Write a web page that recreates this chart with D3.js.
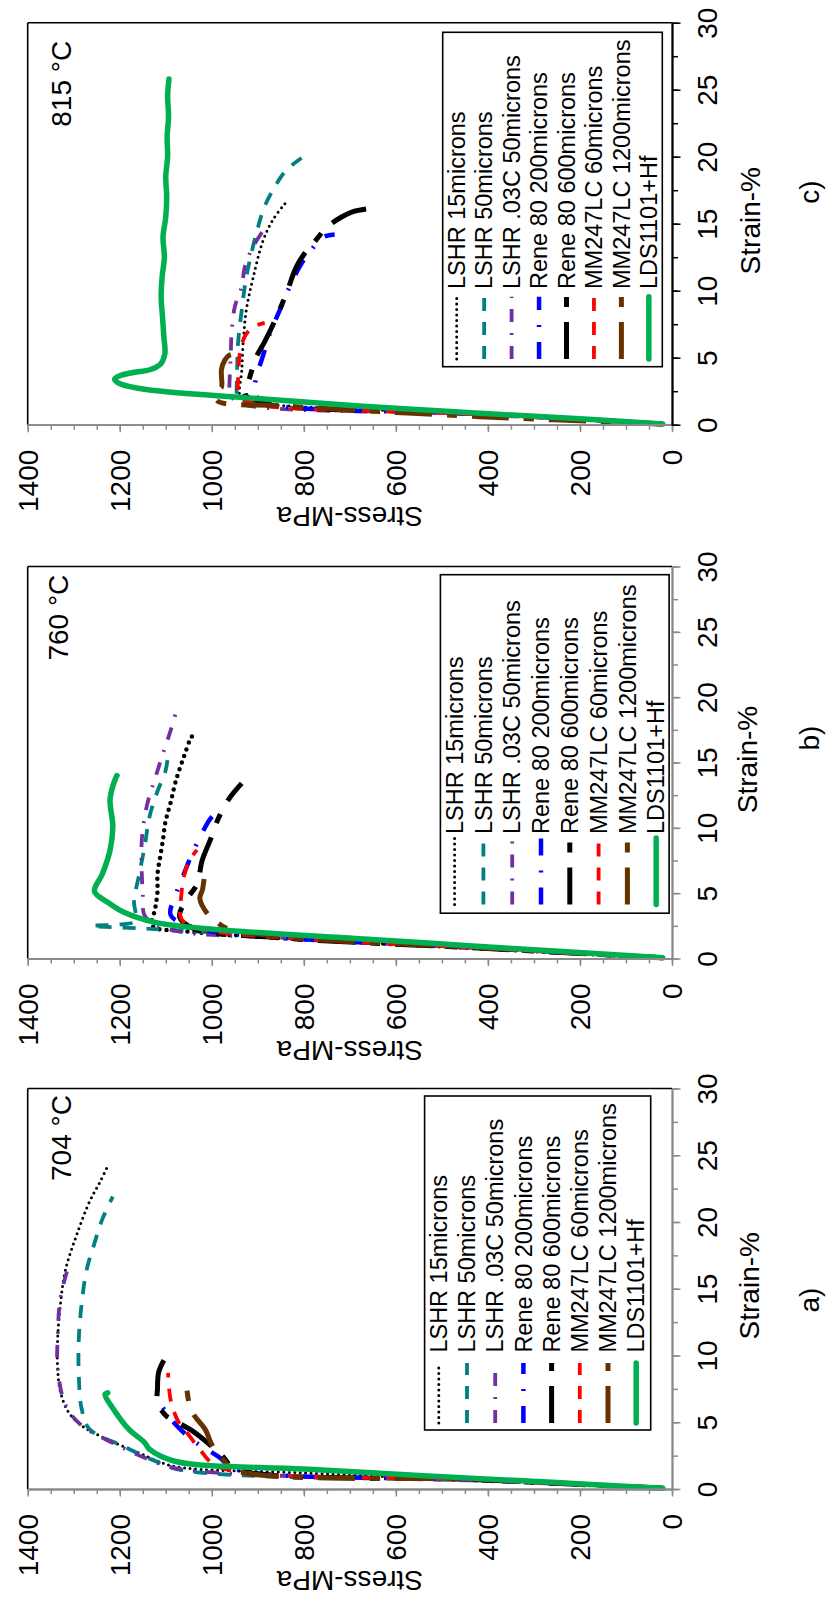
<!DOCTYPE html>
<html><head><meta charset="utf-8">
<script src="https://cdn.jsdelivr.net/npm/d3@7"></script>
<style>
body{margin:0;background:#fff}
svg{display:block;background:#fff}
text{font-family:"Liberation Sans",Arial,sans-serif;fill:#000}
</style>
</head><body>
<svg id="chart" width="827" height="1604"></svg>
<script>
// ---------- labels ----------
const seriesNames = ["LSHR 15microns","LSHR 50microns","LSHR .03C 50microns","Rene 80 200microns",
  "Rene 80 600microns","MM247LC 60microns","MM247LC 1200microns","LDS1101+Hf"];
const temperatures = ["704 °C","760 °C","815 °C"];
const panelLetters = ["a)","b)","c)"];
const strainMajorTicks = [0,5,10,15,20,25,30];
const stressMajorTicks = [0,200,400,600,800,1000,1200,1400];
const xTitle = "Strain-%";
const yTitle = "Stress-MPa";

// ---------- data: [strain %, stress MPa] ----------
// 704 °C
const lshr15_704 = [[0.05,20],[0.6,400],[1.2,800],[1.67,1078],[2.2,1125],[2.7,1158],[3.7,1226],[4.76,1283],[5.8,1312],[7.3,1329],[9.1,1335],[11.2,1335],[13.8,1329],[16.4,1318],[18.9,1295],[21.5,1266],[23.0,1243],[24.2,1226]];
const lshr50_704 = [[0.05,20],[0.6,400],[1.42,1066],[2.2,1130],[3.2,1192],[4.5,1266],[6.05,1283],[8.6,1289],[11.2,1289],[13.8,1283],[16.4,1272],[18.4,1255],[20.2,1238],[21.9,1215]];
const lshr03c_704 = [[0.05,20],[0.6,400],[1.55,1078],[2.4,1150],[3.35,1209],[4.76,1283],[6.3,1318],[9.1,1335],[11.2,1335],[14.3,1329],[16.6,1312]];
const rene200_704 = [[0.05,20],[0.7,420],[1.5,950],[2.4,985],[3.7,1043],[5.0,1083],[6.4,1112]];
const rene600_704 = [[0.05,20],[0.7,420],[1.5,950],[2.4,975],[3.2,1000],[4.3,1040],[5.0,1075],[5.5,1100],[6.5,1118],[7.5,1118],[8.8,1115],[10.2,1095]];
const mm60_704 = [[0.05,20],[0.7,420],[1.67,986],[2.96,1026],[4.0,1049],[5.0,1072],[6.6,1089],[8.7,1095]];
const mm1200_704 = [[0.05,20],[0.7,400],[1.42,952],[2.2,975],[3.2,998],[4.5,1015],[5.5,1038],[6.4,1049],[7.7,1055]];
const lds_704 = [[0.05,20],[0.5,260],[1.0,540],[1.5,800],[2.06,1078],[2.96,1135],[3.48,1146],[4.5,1181],[6.05,1215],[7.08,1232],[7.2,1226]];

// 760 °C
const lshr15_760 = [[0.05,20],[0.8,430],[1.6,870],[2.1,1060],[2.5,1129],[3.8,1123],[5.1,1118],[6.45,1118],[7.8,1112],[9.1,1106],[10.4,1101],[12.0,1089],[13.6,1078],[15.4,1061],[17.0,1043],[17.2,1034]];
const lshr50_760 = [[0.05,20],[0.8,400],[1.5,750],[2.0,1000],[2.3,1150],[2.5,1261],[2.6,1200],[2.8,1170],[3.3,1165],[4.3,1169],[6.4,1158],[8.55,1146],[10.9,1135],[12.8,1118],[14.3,1101],[15.5,1095]];
const lshr03c_760 = [[0.05,20],[0.8,420],[1.6,850],[2.0,1061],[2.6,1120],[3.3,1146],[5.0,1150],[6.45,1152],[9.1,1152],[11.7,1141],[13.8,1123],[15.7,1106],[17.5,1089],[19.2,1075]];
const rene200_760 = [[0.05,20],[0.8,420],[1.6,850],[2.3,1030],[3.3,1089],[4.9,1078],[6.45,1061],[8.0,1043],[9.6,1021],[10.7,1003],[11.3,986]];
const rene600_760 = [[0.05,20],[0.8,420],[1.6,860],[2.3,1040],[3.2,1070],[4.5,1055],[5.7,1032],[7.5,1021],[9.1,1003],[10.7,986],[12.2,963],[13.4,935]];
const mm60_760 = [[0.05,20],[0.8,420],[1.6,850],[2.3,1030],[3.0,1066],[4.9,1066],[6.2,1061],[7.5,1049],[8.3,1032]];
const mm1200_760 = [[0.05,20],[0.8,400],[1.6,820],[2.24,963],[2.8,990],[3.4,1009],[4.6,1026],[5.3,1020],[6.7,1015]];
const lds_760 = [[0.05,20],[0.5,220],[1.0,450],[1.5,670],[2.24,998],[2.76,1123],[3.55,1192],[4.3,1226],[5.13,1255],[6.45,1238],[8.3,1221],[10.1,1215],[12.2,1221],[13.8,1209],[14.0,1206]];

// 815 °C
const lshr15_815 = [[0.05,20],[0.8,430],[1.6,900],[1.9,935],[2.3,940],[4.0,935],[6.07,932],[8.56,925],[11.0,910],[13.8,888],[15.3,867],[16.5,841]];
const lshr50_815 = [[0.05,20],[0.8,430],[1.6,920],[2.0,945],[2.34,946],[4.0,945],[6.07,943],[8.5,935],[11.0,925],[14.3,903],[16.3,885],[18.0,859],[19.0,838],[19.9,805]];
const lshr03c_815 = [[0.05,20],[0.8,440],[1.5,930],[2.0,955],[2.6,961],[3.6,961],[5.0,959],[6.8,957],[8.8,950],[10.3,935],[11.8,928],[13.3,910],[15.0,878]];
const rene200_815 = [[0.05,20],[0.8,430],[1.5,870],[2.0,900],[2.34,907],[3.6,903],[5.0,890],[6.8,874],[8.56,852],[10.05,834],[11.8,809],[12.9,787],[14.0,758],[14.2,733]];
const rene600_815 = [[0.05,20],[0.8,430],[1.5,880],[2.0,920],[2.34,928],[3.6,917],[5.07,903],[6.2,885],[8.06,859],[9.8,838],[11.8,816],[12.8,798],[13.5,780],[14.7,751],[15.5,718],[15.9,693],[16.15,653]];
const mm60_815 = [[0.05,20],[0.8,440],[1.5,900],[2.0,935],[2.6,943],[3.3,943],[5.3,939],[6.6,928],[7.3,910],[7.6,885]];
const mm1200_815 = [[0.05,20],[0.6,417],[1.4,840],[1.84,990],[2.6,986],[2.8,979],[4.1,979],[4.8,972],[5.2,961],[5.3,935]];
const lds_815 = [[0.05,20],[0.45,200],[0.85,417],[1.4,680],[2.0,920],[2.59,1135],[2.9,1185],[3.15,1205],[3.4,1211],[3.65,1200],[3.9,1170],[4.1,1135],[4.5,1112],[5.3,1102],[6.5,1104],[8.0,1107],[9.5,1110],[11.0,1108],[12.5,1103],[14.0,1106],[15.5,1100],[17.0,1098],[18.5,1100],[20.0,1096],[21.5,1097],[23.0,1094],[24.5,1096],[25.8,1093]];

// ---------- styles ----------
const seriesColors = ["#000000","#008080","#7030a0","#0000ff","#000000","#ff0000","#663300","#00b050"];
const seriesDash = ["0 5.5","13 11","13 11 2 11","17 15 2 15","37 15 10 15","13 11","37 15 10 15",null];
const seriesWidth = [3,3.8,3.8,4.5,5,3.8,5,5.5];
const seriesCap = ["round","butt","butt","butt","butt","butt","butt","round"];

// ---------- layout (screen coordinates; chart is drawn rotated) ----------
const LEFT = 27.7, RIGHT = 672;
const panels = [
  {data:[lshr15_704,lshr50_704,lshr03c_704,rene200_704,rene600_704,mm60_704,mm1200_704,lds_704],
   top:1088.5, bottom:1489, axisColor:"#8a8a8a", titleX:70.8, titleY:1181, letterY:1300, xTitleX:759, dotW:3,
   leg:{x0:424.6,x1:650.7,y0:1096,y1:1430,col0:438.8,step:28.2,textY:1352.6,symTop:1363,symBot:1423}},
  {data:[lshr15_760,lshr50_760,lshr03c_760,rene200_760,rene600_760,mm60_760,mm1200_760,lds_760],
   top:566.5, bottom:958.5, axisColor:"#8a8a8a", titleX:68.2, titleY:660.6, letterY:738, xTitleX:757, dotW:4.5,
   leg:{x0:440.4,x1:669.1,y0:574.7,y1:913.2,col0:454.6,step:28.8,textY:834,symTop:838,symBot:904.6}},
  {data:[lshr15_815,lshr50_815,lshr03c_815,rene200_815,rene600_815,mm60_815,mm1200_815,lds_815],
   top:22.7, bottom:424.7, axisColor:"#000000", titleX:70.7, titleY:126.7, letterY:192, xTitleX:760, dotW:3,
   leg:{x0:442.7,x1:662.3,y0:32.3,y1:366.7,col0:456.7,step:27.45,textY:289,symTop:296.7,symBot:359}}
];

const svg = d3.select("#chart");

panels.forEach((P, pi) => {
  const x = d3.scaleLinear().domain([0,1400]).range([RIGHT, LEFT]);   // stress
  const y = d3.scaleLinear().domain([0,30]).range([P.bottom, P.top]); // strain
  const g = svg.append("g");

  // frame (top and left)
  g.append("line").attr("x1",LEFT).attr("x2",RIGHT).attr("y1",P.top).attr("y2",P.top)
    .attr("stroke","#000").attr("stroke-width",1.6);
  g.append("line").attr("x1",LEFT).attr("x2",LEFT).attr("y1",P.top).attr("y2",P.bottom)
    .attr("stroke","#000").attr("stroke-width",1.6);

  // curves
  const line = d3.line().x(d => x(d[1])).y(d => y(d[0])).curve(d3.curveCatmullRom.alpha(0.5));
  P.data.forEach((ser, si) => {
    const w = si === 0 ? P.dotW : seriesWidth[si];
    const dash = si === 0 ? `0 ${P.dotW + 2.5}` : seriesDash[si];
    g.append("path").attr("d", line(ser)).attr("fill","none")
      .attr("stroke", seriesColors[si]).attr("stroke-width", w)
      .attr("stroke-dasharray", dash).attr("stroke-linecap", seriesCap[si])
      .attr("stroke-linejoin","round");
  });

  // stress axis (horizontal, bottom)
  const sMinor = g.append("g").attr("transform",`translate(0,${P.bottom})`)
    .call(d3.axisBottom(x).tickValues(d3.range(0,1401,50)).tickSize(5).tickSizeOuter(0).tickFormat(""));
  const sMajor = g.append("g").attr("transform",`translate(0,${P.bottom})`)
    .call(d3.axisBottom(x).tickValues(stressMajorTicks).tickSize(7.5).tickSizeOuter(0).tickFormat(d3.format("d")));
  [sMinor, sMajor].forEach(a => {
    a.select(".domain").attr("stroke","#8a8a8a").attr("stroke-width",1.8);
    a.selectAll(".tick line").attr("stroke","#8a8a8a").attr("stroke-width",1.5);
  });
  sMajor.attr("font-size",28).attr("font-family","Liberation Sans, Arial, sans-serif");
  sMajor.selectAll(".tick text").attr("x",0).attr("y",0).attr("dy","0.35em")
    .attr("text-anchor","end").attr("transform","translate(0,25) rotate(-90)").attr("fill","#000");

  // strain axis (vertical, right)
  const eMinor = g.append("g").attr("transform",`translate(${RIGHT},0)`)
    .call(d3.axisRight(y).tickValues(d3.range(0,30.1,2.5)).tickSize(6).tickSizeOuter(0).tickFormat(""));
  const eMajor = g.append("g").attr("transform",`translate(${RIGHT},0)`)
    .call(d3.axisRight(y).tickValues(strainMajorTicks).tickSize(8.5).tickSizeOuter(0).tickFormat(d3.format("d")));
  [eMinor, eMajor].forEach(a => {
    a.select(".domain").attr("stroke",P.axisColor).attr("stroke-width",1.8);
    a.selectAll(".tick line").attr("stroke",P.axisColor).attr("stroke-width",1.5);
  });
  eMajor.attr("font-size",28).attr("font-family","Liberation Sans, Arial, sans-serif");
  eMajor.selectAll(".tick text").attr("x",0).attr("y",0).attr("dy",null)
    .attr("text-anchor","middle").attr("transform","translate(45,0) rotate(-90)").attr("fill","#000");

  // axis titles
  g.append("text").text(yTitle).attr("font-size",28).attr("text-anchor","middle").attr("dy","0.35em")
    .attr("transform",`translate(${(LEFT+RIGHT)/2},${P.bottom+92}) rotate(180)`);
  g.append("text").text(xTitle).attr("font-size",28).attr("text-anchor","middle")
    .attr("transform",`translate(${P.xTitleX},${(P.top+P.bottom)/2-3}) rotate(-90)`);
  g.append("text").text(panelLetters[pi]).attr("font-size",28).attr("text-anchor","middle")
    .attr("transform",`translate(819,${P.letterY}) rotate(-90)`);

  // temperature label
  g.append("text").text(temperatures[pi]).attr("font-size",28).attr("text-anchor","start")
    .attr("transform",`translate(${P.titleX},${P.titleY}) rotate(-90)`);

  // legend
  const L = P.leg;
  g.append("rect").attr("x",L.x0).attr("y",L.y0).attr("width",L.x1-L.x0).attr("height",L.y1-L.y0)
    .attr("fill","#fff").attr("stroke","#000").attr("stroke-width",1.6);
  seriesNames.forEach((name, si) => {
    const cx = L.col0 + si*L.step;
    g.append("path").attr("d", `M${cx},${L.symBot}L${cx},${L.symTop}`).attr("fill","none")
      .attr("stroke", seriesColors[si]).attr("stroke-width", seriesWidth[si])
      .attr("stroke-dasharray", seriesDash[si]).attr("stroke-linecap", seriesCap[si]);
    g.append("text").text(name).attr("font-size",23.5).attr("text-anchor","start").attr("dy","0.35em")
      .attr("transform",`translate(${cx},${L.textY}) rotate(-90)`);
  });
});
</script>
</body></html>
